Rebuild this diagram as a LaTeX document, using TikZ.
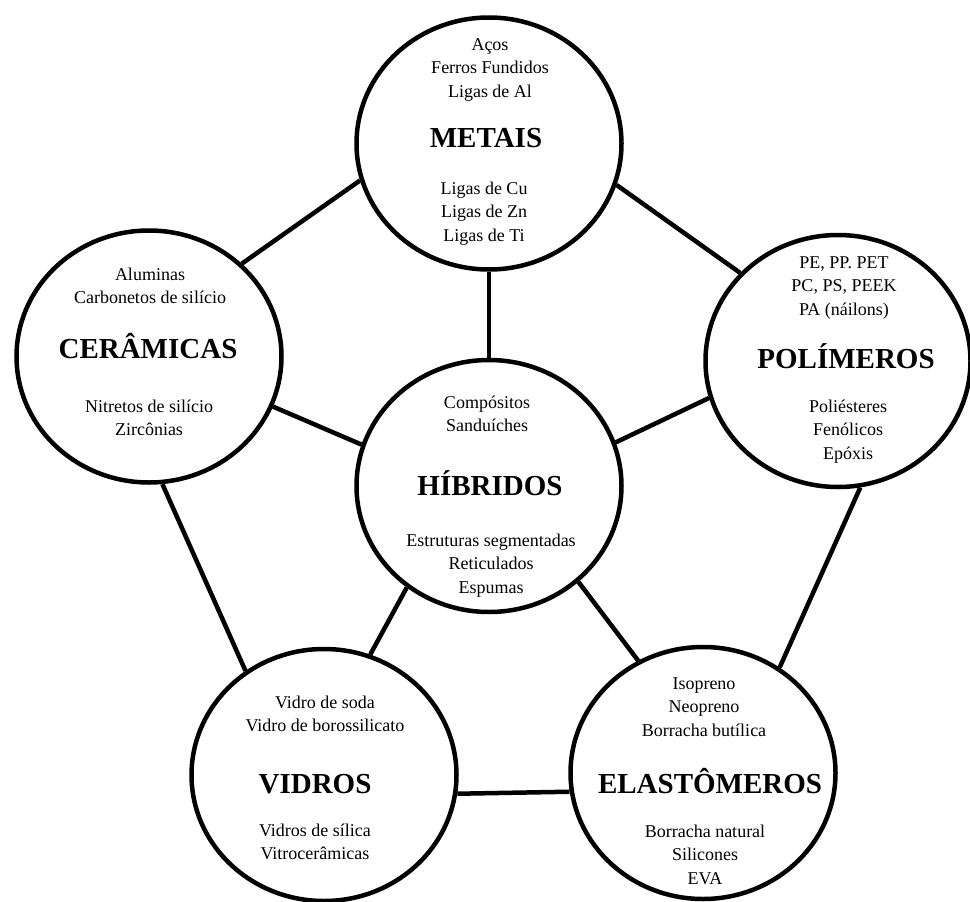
\documentclass[tikz,border=0pt]{standalone}
\usepackage{fontspec}
\setmainfont{Liberation Serif}
\usepackage{tikz}
\usetikzlibrary{shapes.geometric}

\tikzset{
  classe/.style={draw, ellipse, line width=4.5pt, minimum width=265pt, minimum height=252pt, inner sep=0pt},
  titulo/.style={font=\fontsize{29}{32}\selectfont\bfseries, inner sep=0pt, text height=20pt, text depth=0pt},
  lista/.style={font=\fontsize{18}{23.5}\selectfont, align=center, inner sep=0pt},
  ligacao/.style={line width=4.5pt}
}

\begin{document}
\begin{tikzpicture}[x=1pt, y=-1pt]
                    \useasboundingbox (0, 0) rectangle (970, 902);

                    \node[classe] (metais) at (489, 143.5) {};
                    \node[classe] (ceramicas) at (149, 356.5) {};
                    \node[classe] (polimeros) at (838, 361) {};
                    \node[classe] (hibridos) at (489, 486) {};
                    \node[classe] (vidros) at (324, 775) {};
                    \node[classe] (elastomeros) at (703, 773) {};

                    \draw[ligacao] (metais.196) -- (ceramicas.45);
                    \draw[ligacao] (metais.-18) -- (polimeros.138);
                    \draw[ligacao] (metais.south) -- (hibridos.north);
                    \draw[ligacao] (ceramicas.-22) -- (hibridos.162);
                    \draw[ligacao] (polimeros.196) -- (hibridos.19);
                    \draw[ligacao] (ceramicas.-84) -- (vidros.127);
                    \draw[ligacao] (hibridos.231) -- (vidros.69);
                    \draw[ligacao] (hibridos.-47) -- (elastomeros.120);
                    \draw[ligacao] (polimeros.-80) -- (elastomeros.54);
                    \draw[ligacao] (vidros.-8) -- (elastomeros.188);

                    \node[lista] (metais-a) at (490, 69) {\strut Aços\\Ferros Fundidos\\Ligas de Al\strut};
                    \node[titulo] (metais-t) at (486, 137) {METAIS};
                    \node[lista] (metais-b) at (484, 213) {\strut Ligas de Cu\\Ligas de Zn\\Ligas de Ti\strut};

                    \node[lista] (ceramicas-a) at (150, 287.5) {\strut Aluminas\\Carbonetos de silício\strut};
                    \node[titulo] (ceramicas-t) at (148, 348) {CERÂMICAS};
                    \node[lista] (ceramicas-b) at (149, 419.5) {\strut Nitretos de silício\\Zircônias\strut};

                    \node[lista] (polimeros-a) at (844, 287) {\strut PE, PP. PET\\PC, PS, PEEK\\PA (náilons)\strut};
                    \node[titulo] (polimeros-t) at (846, 358) {POLÍMEROS};
                    \node[lista] (polimeros-b) at (848, 431) {\strut Poliésteres\\Fenólicos\\Epóxis\strut};

                    \node[lista] (hibridos-a) at (487, 415.5) {\strut Compósitos\\Sanduíches\strut};
                    \node[titulo] (hibridos-t) at (490, 485) {HÍBRIDOS};
                    \node[lista] (hibridos-b) at (491, 565) {\strut Estruturas segmentadas\\Reticulados\\Espumas\strut};

                    \node[lista] (vidros-a) at (325, 715.5) {\strut Vidro de soda\\Vidro de borossilicato\strut};
                    \node[titulo] (vidros-t) at (315, 783) {VIDROS};
                    \node[lista] (vidros-b) at (315, 843.5) {\strut Vidros de sílica\\Vitrocerâmicas\strut};

                    \node[lista] (elastomeros-a) at (704, 708) {\strut Isopreno\\Neopreno\\Borracha butílica\strut};
                    \node[titulo] (elastomeros-t) at (710, 783) {ELASTÔMEROS};
                    \node[lista] (elastomeros-b) at (705, 856) {\strut Borracha natural\\Silicones\\EVA\strut};
                \end{tikzpicture}
\end{document}
